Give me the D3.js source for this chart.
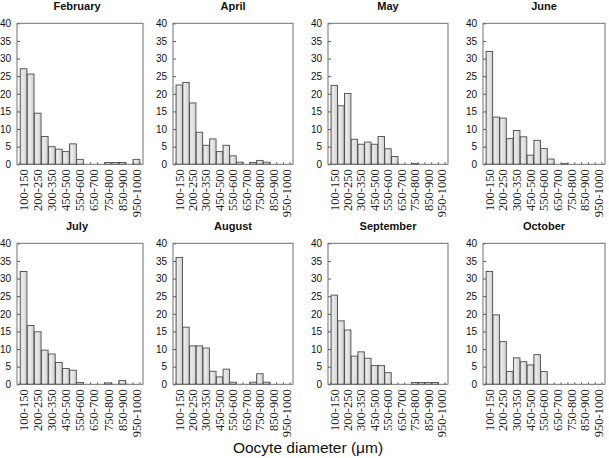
<!DOCTYPE html>
<html><head><meta charset="utf-8">
<script src="https://cdn.jsdelivr.net/npm/d3@7"></script>
<style>html,body{margin:0;padding:0;background:#fff;}svg{display:block;}
.xlab{font-family:"Liberation Serif","Times New Roman","DejaVu Serif",serif;}</style>
</head><body>
<svg id="chart" width="609" height="458"></svg>
<script>
// ---- data ----
const categories = ["100-150","150-200","200-250","250-300","300-350","350-450","450-500","500-550","550-600","600-650","650-700","700-750","750-800","800-850","850-900","900-950","950-1000"];
const shownLabels = ["100-150","200-250","300-350","450-500","550-600","650-700","750-800","850-900","950-1000"];
const months = ["February","April","May","June","July","August","September","October"];
const february  = [27.1,25.6,14.5,7.9,5.0,4.3,3.6,5.8,1.4,0,0,0,0.5,0.5,0.5,0,1.4];
const april     = [22.5,23.2,17.4,9.1,5.4,7.2,3.6,5.4,2.4,0.6,0,0.5,1.1,0.6,0,0,0];
const may       = [22.4,16.6,20.1,7.1,5.7,6.3,5.7,7.9,4.4,2.2,0,0,0.2,0,0,0,0];
const june      = [32.0,13.4,13.1,7.3,9.6,7.8,2.6,6.8,4.5,1.5,0,0.2,0,0,0,0,0];
const july      = [32.0,16.7,14.9,9.7,8.6,6.2,4.5,4.0,0.5,0,0,0,0.4,0,1.1,0,0];
const august    = [36.0,16.2,10.9,10.9,10.3,3.7,2.1,4.3,0.6,0,0,0.6,3.0,0.6,0,0,0];
const september = [25.3,18.0,15.4,8.0,9.2,7.4,5.3,5.3,3.3,0,0,0,0.5,0.5,0.5,0.5,0];
const october   = [32.0,19.7,12.1,3.6,7.5,6.4,5.5,8.4,3.6,0,0,0,0,0,0,0,0];
const seriesValues = [february, april, may, june, july, august, september, october];
const yTicks = [0,5,10,15,20,25,30,35,40];
const xAxisTitle = "Oocyte diameter (\u03bcm)";

// ---- layout ----
const colLeft = [17,173,328,483];
const colWidth = [126,120,120,122];
const rowTop = [23.3,243.3];
const boxH = 141;

const svg = d3.select("#chart");
const defs = svg.append("defs");
const grad = defs.append("linearGradient").attr("id","barGrad").attr("x1","0").attr("x2","1").attr("y1","0").attr("y2","0");
grad.append("stop").attr("offset","0%").attr("stop-color","#c9c9c9");
grad.append("stop").attr("offset","30%").attr("stop-color","#ececec");
grad.append("stop").attr("offset","100%").attr("stop-color","#cfcfcf");

months.forEach((m,i)=>{
  const r = Math.floor(i/4), c = i%4;
  const x0 = colLeft[c], w = colWidth[c], y0 = rowTop[r];
  const g = svg.append("g").attr("transform",`translate(${x0},${y0})`);
  const x = d3.scaleBand().domain(categories).range([0,w]).paddingInner(0.04).paddingOuter(0.45);
  const y = d3.scaleLinear().domain([0,40]).range([boxH,0]);
  const vals = seriesValues[i];

  // bars
  g.selectAll("rect.bar").data(categories.map((cat,k)=>({cat,v:vals[k]})).filter(d=>d.v>0))
    .enter().append("rect").attr("class","bar")
    .attr("x",d=>x(d.cat)).attr("width",x.bandwidth())
    .attr("y",d=>y(d.v)).attr("height",d=>boxH-y(d.v))
    .attr("fill","url(#barGrad)").attr("stroke","#4d4d4d").attr("stroke-width",0.9);

  // bottom small ticks at bin boundaries
  const step = x.step();
  g.selectAll("line.bt").data(d3.range(categories.length+1))
    .enter().append("line")
    .attr("x1",k=>x(categories[0]) - x.paddingInner()*step/2 + k*step)
    .attr("x2",k=>x(categories[0]) - x.paddingInner()*step/2 + k*step)
    .attr("y1",boxH).attr("y2",boxH-2).attr("stroke","#555").attr("stroke-width",1);

  // y axis
  const ya = g.append("g").call(d3.axisLeft(y).tickValues(yTicks).tickSizeInner(-3).tickSizeOuter(0).tickPadding(6));
  ya.select(".domain").remove();
  ya.selectAll(".tick line").attr("stroke","#555");
  ya.selectAll(".tick text").style("font-family","Arial, 'Liberation Sans', sans-serif").style("font-size","10px").attr("fill","#111");

  // x axis labels
  const xa = g.append("g").attr("transform",`translate(0,${boxH})`)
    .call(d3.axisBottom(x).tickValues(shownLabels.map((l,k)=>categories[k*2])).tickFormat((d)=>shownLabels[categories.indexOf(d)/2]).tickSize(0).tickPadding(0));
  xa.select(".domain").remove();
  xa.attr("font-family",null);
  xa.selectAll(".tick text").attr("class","xlab")
    .style("font-size","12.5px").attr("fill","#222")
    .attr("transform","rotate(-90)").attr("text-anchor","end").attr("x",-5).attr("y",0).attr("dy","0.35em");

  // box
  g.append("rect").attr("x",0).attr("y",0).attr("width",w).attr("height",boxH)
    .attr("fill","none").attr("stroke","#707070").attr("stroke-width",1);

  // title
  svg.append("text").attr("x",x0+w/2 - (c===0?3:0)).attr("y",r===0?10:230).attr("text-anchor","middle")
    .attr("font-family","Arial, 'Liberation Sans', sans-serif").attr("font-weight","bold").attr("font-size","11px")
    .attr("fill","#111").text(m);
});

svg.append("text").attr("x",308).attr("y",453).attr("text-anchor","middle")
  .attr("font-family","Arial, 'Liberation Sans', sans-serif").attr("font-size","15.5px").attr("fill","#111")
  .text(xAxisTitle);
</script>
</body></html>
